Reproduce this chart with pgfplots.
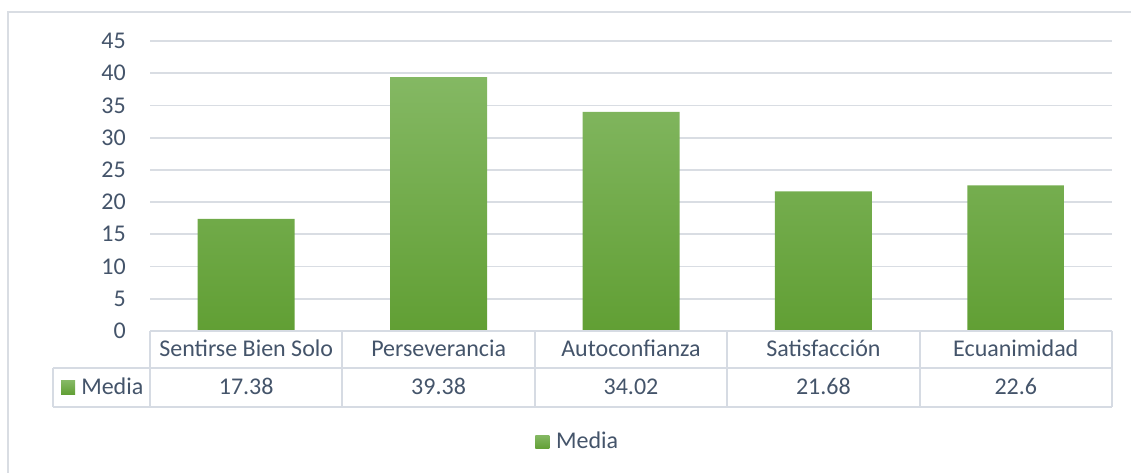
\documentclass[border=0pt]{standalone}
\usepackage{fontspec}
\setmainfont{Carlito}
\usepackage{pgfplots}
\pgfplotsset{compat=1.18}
\definecolor{txt}{HTML}{44546A}
\definecolor{gridc}{HTML}{D9DDE3}
\definecolor{tabc}{HTML}{D6DBE3}
\definecolor{gtop}{HTML}{84B863}
\definecolor{gmid}{HTML}{70AD46}
\definecolor{gbot}{HTML}{619F34}
\begin{document}
\fontsize{18}{21}\selectfont
\begin{tikzpicture}
\begin{scope}[x=0.75pt,y=-0.75pt]
\useasboundingbox (0,0) rectangle (1131,473);
\draw[gridc, line width=1.2pt] (8,473) -- (8,12) -- (1131,12);
\end{scope}
\begin{axis}[
  at={(112.5pt,-248.25pt)}, anchor=south west,
  scale only axis, width=721.5pt, height=217.5pt,
  xmin=-0.5, xmax=4.5, ymin=0, ymax=45,
  ytick={0,5,...,45},
  xtick=\empty,
  axis line style={draw=none},
  major tick length=0pt,
  ymajorgrids, grid style={gridc, line width=1.3pt},
  yticklabel style={text=txt, font=\fontsize{18}{21}\selectfont, xshift=-12pt},
  /pgf/number format/assume math mode=true,
  legend style={at={(0.445,-0.383)}, anchor=center, draw=none, fill=none,
    font=\fontsize{18}{21}\selectfont, text=txt, inner sep=0pt,
    /tikz/every even column/.append style={column sep=4.5pt}},
  legend image code/.code={\shade[top color=gtop, bottom color=gbot] (0pt,-5.2pt) rectangle (10.5pt,5.2pt);},
  clip=false,
]
\addplot[ybar, bar width=72.75pt, draw=none, top color=gtop, middle color=gmid, bottom color=gbot]
  coordinates {(0,17.38) (1,39.38) (2,34.02) (3,21.68) (4,22.6)};
\addlegendentry{\hspace{3pt}Media}
\end{axis}
\begin{scope}[x=0.75pt,y=-0.75pt]
\draw[tabc, line width=1.5pt] (150,331) -- (1112,331);
\draw[tabc, line width=1.5pt] (53,368.5) -- (1112,368.5);
\draw[tabc, line width=1.5pt] (53,407) -- (1112,407);
\draw[tabc, line width=1.5pt] (53,368.5) -- (53,407);
\foreach \xx in {150,342.4,534.8,727.2,919.6,1112} {
  \draw[tabc, line width=1.5pt] (\xx,331) -- (\xx,407);
}
\foreach \xx/\lab/\val in {246.2/Sentirse Bien Solo/17.38, 438.6/Perseverancia/39.38, 631/Autoconfianza/34.02, 823.4/Satisfacción/21.68, 1015.8/Ecuanimidad/22.6} {
  \node[text=txt, inner sep=0pt, anchor=base] at (\xx,357) {\lab};
  \node[text=txt, inner sep=0pt, anchor=base] at (\xx,395) {\val};
}
\shade[top color=gtop, bottom color=gbot] (61,381) rectangle (75,394.5);
\node[text=txt, inner sep=0pt, anchor=base west] at (81,395) {Media};
\end{scope}
\end{tikzpicture}
\end{document}
